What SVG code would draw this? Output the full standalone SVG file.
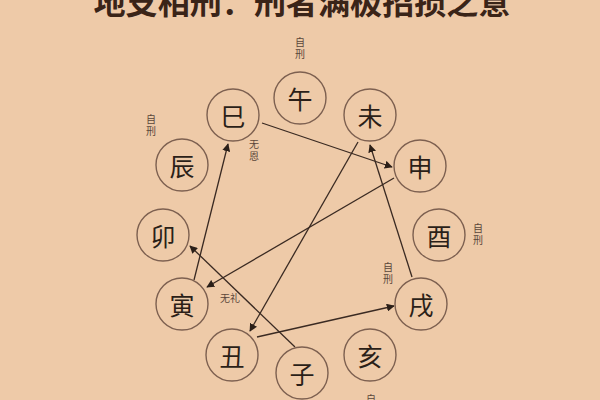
<svg xmlns="http://www.w3.org/2000/svg" width="600" height="400" viewBox="0 0 600 400">
<defs>
<style>
.node circle{fill:none;stroke:#7d6050;stroke-width:1.4}
.node text{font-family:"Noto Sans CJK SC","Noto Sans CJK TC",serif;font-size:25px;fill:#2b1f18;text-anchor:middle;dominant-baseline:central}
.note{font-family:"Noto Sans CJK SC",serif;font-size:10px;fill:#5a463a;text-anchor:middle}
.vnote{font-family:"Noto Sans CJK SC",serif;font-size:10px;fill:#5a463a;writing-mode:tb;glyph-orientation-vertical:0;letter-spacing:2px}
.edges line{stroke:#3a2a22;stroke-width:1.3}
</style>
<marker id="arr" viewBox="0 0 10 10" refX="9" refY="5" markerWidth="8" markerHeight="8" markerUnits="userSpaceOnUse" orient="auto">
<path d="M0,0 L10,5 L0,10 z" fill="#2b1f18"/>
</marker>
</defs>
<rect width="600" height="400" fill="#eecaa8"/>
<text x="302" y="14" font-family="Noto Sans CJK SC,serif" font-size="32" font-weight="bold" fill="#3a2418" text-anchor="middle" textLength="417" lengthAdjust="spacingAndGlyphs">地支相刑：刑者满极招损之意</text>
<g class="edges">
<line x1="262" y1="123" x2="392" y2="167" marker-end="url(#arr)"/>
<line x1="394" y1="178" x2="207" y2="287" marker-end="url(#arr)"/>
<line x1="194" y1="280" x2="228" y2="144" marker-end="url(#arr)"/>
<line x1="358" y1="142" x2="250" y2="331" marker-end="url(#arr)"/>
<line x1="257" y1="337" x2="394" y2="306" marker-end="url(#arr)"/>
<line x1="412" y1="277" x2="370" y2="145" marker-end="url(#arr)"/>
<line x1="295" y1="347" x2="190" y2="246" marker-end="url(#arr)"/>
</g>
<g id="wu" class="node"><circle cx="300" cy="98" r="26"/><text x="300" y="98">午</text></g>
<g id="si" class="node"><circle cx="233" cy="115" r="26"/><text x="233" y="115">巳</text></g>
<g id="wei" class="node"><circle cx="370" cy="115" r="26"/><text x="370" y="115">未</text></g>
<g id="chen" class="node"><circle cx="182" cy="165" r="26"/><text x="182" y="165">辰</text></g>
<g id="shen" class="node"><circle cx="420" cy="166" r="26"/><text x="420" y="166">申</text></g>
<g id="mao" class="node"><circle cx="163" cy="235" r="26"/><text x="163" y="235">卯</text></g>
<g id="you" class="node"><circle cx="439" cy="235" r="26"/><text x="439" y="235">酉</text></g>
<g id="yin" class="node"><circle cx="182" cy="304" r="26"/><text x="182" y="304">寅</text></g>
<g id="xu" class="node"><circle cx="421" cy="304" r="26"/><text x="421" y="304">戌</text></g>
<g id="chou" class="node"><circle cx="232" cy="355" r="26"/><text x="232" y="355">丑</text></g>
<g id="hai" class="node"><circle cx="370" cy="355" r="26"/><text x="370" y="355">亥</text></g>
<g id="zi" class="node"><circle cx="302" cy="373" r="26"/><text x="302" y="373">子</text></g>
<g id="notes">
<text class="vnote" x="300" y="37">自刑</text>
<text class="vnote" x="151" y="114">自刑</text>
<text class="vnote" x="254" y="139">无恩</text>
<text class="vnote" x="478" y="223">自刑</text>
<text class="vnote" x="388" y="262">自刑</text>
<text class="note" x="230" y="302">无礼</text>
<text class="note" x="371" y="403">自</text>
</g>
</svg>
